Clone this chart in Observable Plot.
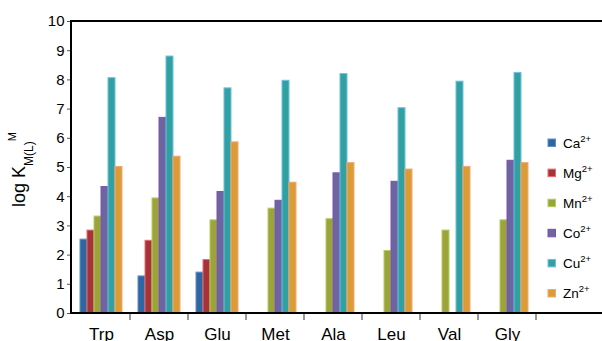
<!DOCTYPE html>
<html>
<head>
<meta charset="utf-8">
<script src="https://cdn.jsdelivr.net/npm/d3@7"></script>
<script src="https://cdn.jsdelivr.net/npm/@observablehq/plot@0.6"></script>
<style>
  html, body { margin: 0; padding: 0; background: #fff; }
  #chart { width: 602px; height: 341px; overflow: hidden; }
</style>
</head>
<body>
<div id="chart"></div>
<script>
const groups = ["Trp", "Asp", "Glu", "Met", "Ala", "Leu", "Val", "Gly"];
const metals = ["Ca", "Mg", "Mn", "Co", "Cu", "Zn"];
const caValues = [2.53, 1.27, 1.40, null, null, null, null, null];
const mgValues = [2.84, 2.49, 1.83, null, null, null, null, null];
const mnValues = [3.32, 3.94, 3.19, 3.59, 3.23, 2.14, 2.84, 3.19];
const coValues = [4.33, 6.70, 4.16, 3.86, 4.80, 4.51, null, 5.23];
const cuValues = [8.06, 8.80, 7.71, 7.97, 8.20, 7.03, 7.94, 8.24];
const znValues = [5.02, 5.37, 5.86, 4.48, 5.15, 4.93, 5.02, 5.15];
const yTicks = [0, 1, 2, 3, 4, 5, 6, 7, 8, 9, 10];

const fillColors = ["#2f66a2", "#a7333a", "#9ca33b", "#6c659f", "#31a0a1", "#db9c36"];
const strokeColors = ["#5f90c8", "#e07070", "#b0d060", "#8050b0", "#70c0e8", "#f0a878"];

const series = [caValues, mgValues, mnValues, coValues, cuValues, znValues];
const data = groups.flatMap((g, i) =>
  metals.map((m, j) => ({group: g, metal: m, value: series[j][i]}))
).filter(d => d.value != null);
const strokeMap = new Map(metals.map((m, j) => [m, strokeColors[j]]));

const W = 602, H = 341, ML = 71, MT = 21, MB = 28;
const step = 58.15;
const FONT = "'Liberation Sans', Arial, sans-serif";

const chart = Plot.plot({
  width: W, height: H,
  marginLeft: ML, marginRight: 0, marginTop: MT, marginBottom: MB,
  style: {fontFamily: FONT, background: "#fff", color: "#000"},
  fx: {domain: groups, range: [ML, ML + groups.length * step], paddingInner: 0, paddingOuter: 0, label: null, axis: null},
  x: {domain: metals, paddingInner: 0, paddingOuter: 0.8, axis: null},
  y: {domain: [0, 10], label: null, axis: null},
  color: {domain: metals, range: fillColors},
  marks: [
    Plot.barY(data, {fx: "group", x: "metal", y: "value", fill: "metal",
      stroke: d => strokeMap.get(d.metal), strokeWidth: 1}),
    Plot.axisY({ticks: yTicks, tickSize: 5, tickPadding: 3, fontSize: 15, label: null, stroke: "#555"}),
    Plot.axisFx({anchor: "bottom", tickSize: 0, tickPadding: 14, fontSize: 17, label: null})
  ]
});

document.getElementById("chart").appendChild(chart);

const svg = d3.select(chart);
const y = chart.scale("y");
const fx = chart.scale("fx");
const y0 = y.apply(0), y10 = y.apply(10);

// between-group ticks
const tg = svg.append("g").attr("stroke", "#333").attr("stroke-width", 1);
groups.forEach(g => {
  const xr = fx.apply(g) + fx.bandwidth;
  tg.append("line").attr("x1", xr).attr("x2", xr).attr("y1", y0).attr("y2", y0 + 7);
});

// frame lines
const fg = svg.append("g").attr("stroke", "#000").attr("stroke-width", 2).attr("fill", "none");
fg.append("line").attr("x1", ML).attr("x2", W).attr("y1", y0).attr("y2", y0);
fg.append("line").attr("x1", ML).attr("x2", W).attr("y1", y10).attr("y2", y10);
fg.append("line").attr("x1", ML).attr("x2", ML).attr("y1", y10 - 1).attr("y2", y0 + 1);

// y-axis label
const yl = svg.append("text")
  .attr("transform", "translate(25,207) rotate(-90)")
  .attr("text-anchor", "start")
  .style("font-size", "18px").attr("fill", "#000")
  .style("font-family", FONT);
yl.append("tspan").text("log K");
yl.append("tspan").style("font-size", "12px").attr("dy", 8).text("M(L)");
yl.append("tspan").style("font-size", "11px").attr("dy", -17).text("M");

// legend
const lg = svg.append("g").style("font-family", FONT).attr("text-anchor", "start");
metals.forEach((m, j) => {
  const cy = 143 + j * 30.1;
  lg.append("rect").attr("x", 548).attr("y", cy - 4).attr("width", 7.5).attr("height", 7.5)
    .attr("fill", fillColors[j]).attr("stroke", strokeColors[j]).attr("stroke-width", 1);
  const t = lg.append("text").attr("x", 563).attr("y", cy + 4.5).style("font-size", "13.5px").attr("fill", "#000");
  t.append("tspan").text(m);
  t.append("tspan").style("font-size", "9.5px").attr("dy", -6).text("2+");
});
</script>
</body>
</html>
